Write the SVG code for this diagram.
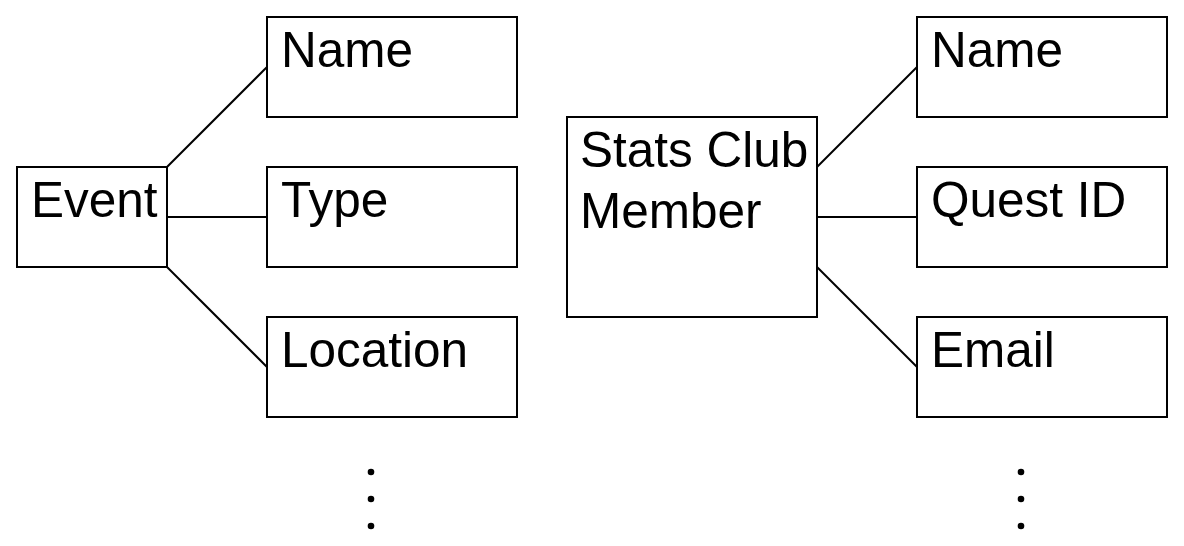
<svg xmlns="http://www.w3.org/2000/svg" width="1184" height="546" viewBox="0 0 1184 546">
<style>
.box{fill:#fff;stroke:#000;stroke-width:2}
.lbl{font-family:"Liberation Sans",Arial,Helvetica,sans-serif;font-size:49.5px;fill:#000}
.conn line{stroke:#000;stroke-width:2}
.dot{fill:#000}
</style>
<rect width="1184" height="546" fill="#fff"/>
<g class="conn" id="connectors">
<line x1="167" y1="167" x2="267" y2="67"/>
<line x1="167" y1="217" x2="267" y2="217"/>
<line x1="167" y1="267" x2="267" y2="367"/>
<line x1="817" y1="167" x2="917" y2="67"/>
<line x1="817" y1="217" x2="917" y2="217"/>
<line x1="817" y1="267" x2="917" y2="367"/>
</g>
<g id="event"><rect class="box" x="17" y="167" width="150" height="100"/><text class="lbl" x="31" y="217">Event</text></g>
<g id="event-name"><rect class="box" x="267" y="17" width="250" height="100"/><text class="lbl" x="281" y="67">Name</text></g>
<g id="event-type"><rect class="box" x="267" y="167" width="250" height="100"/><text class="lbl" x="281" y="217">Type</text></g>
<g id="event-location"><rect class="box" x="267" y="317" width="250" height="100"/><text class="lbl" x="281" y="367">Location</text></g>
<g id="member"><rect class="box" x="567" y="117" width="250" height="200"/><text class="lbl" x="580" y="167">Stats Club</text><text class="lbl" x="580" y="228">Member</text></g>
<g id="member-name"><rect class="box" x="917" y="17" width="250" height="100"/><text class="lbl" x="931" y="67">Name</text></g>
<g id="member-quest"><rect class="box" x="917" y="167" width="250" height="100"/><text class="lbl" x="931" y="217">Quest ID</text></g>
<g id="member-email"><rect class="box" x="917" y="317" width="250" height="100"/><text class="lbl" x="931" y="367">Email</text></g>
<g id="ellipsis-left"><circle class="dot" cx="371" cy="472" r="3.3"/><circle class="dot" cx="371" cy="499" r="3.3"/><circle class="dot" cx="371" cy="526" r="3.3"/></g>
<g id="ellipsis-right"><circle class="dot" cx="1021" cy="472" r="3.3"/><circle class="dot" cx="1021" cy="499" r="3.3"/><circle class="dot" cx="1021" cy="526" r="3.3"/></g>
</svg>
